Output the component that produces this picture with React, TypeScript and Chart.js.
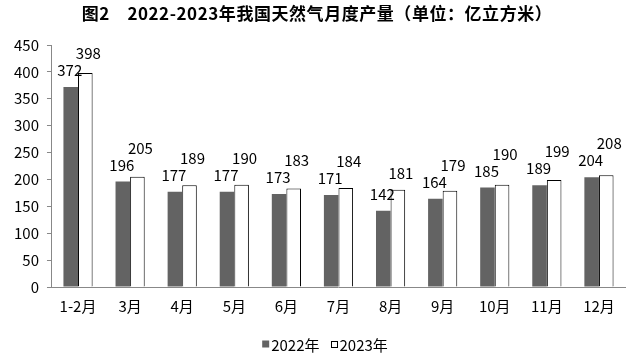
import React, { useEffect, useRef } from "react";
import { Chart, registerables } from "chart.js";

Chart.register(...registerables);

const titleText = "图2　2022-2023年我国天然气月度产量（单位：亿立方米）";
const categories = ["1-2月", "3月", "4月", "5月", "6月", "7月", "8月", "9月", "10月", "11月", "12月"];
const seriesNames = ["2022年", "2023年"];
const values2022 = [372, 196, 177, 177, 173, 171, 142, 164, 185, 189, 204];
const values2023 = [398, 205, 189, 190, 183, 184, 181, 179, 190, 199, 208];
const yTicks = [0, 50, 100, 150, 200, 250, 300, 350, 400, 450];

const FONT = "'Noto Sans CJK SC', 'Noto Sans', sans-serif";
const GRAY = "#636363";

const labelPlugin = {
  id: "barLabels",
  afterDatasetsDraw(chart: any) {
    const ctx = chart.ctx;
    ctx.save();
    ctx.fillStyle = "#000";
    ctx.font = `15px ${FONT}`;
    ctx.textAlign = "center";
    ctx.textBaseline = "alphabetic";
    const m0 = chart.getDatasetMeta(0);
    const m1 = chart.getDatasetMeta(1);
    const d0 = chart.data.datasets[0].data;
    const d1 = chart.data.datasets[1].data;
    const gap = 11;
    const textH = 11;
    m0.data.forEach((b0: any, i: number) => {
      const b1 = m1.data[i];
      const base0 = b0.y - gap;
      let base1 = b1.y - gap;
      const top0 = base0 - textH;
      if (base1 > top0 - 3) base1 = top0 - 6;
      ctx.fillText(String(d0[i]), b0.x - 1, base0);
      ctx.fillText(String(d1[i]), b1.x + 3, base1);
    });
    ctx.restore();
  },
  afterDraw(chart: any) {
    const ctx = chart.ctx;
    ctx.save();
    // title
    ctx.font = `bold 17px ${FONT}`;
    ctx.fillStyle = "#000";
    ctx.textAlign = "left";
    ctx.textBaseline = "middle";
    (ctx as any).letterSpacing = "0.55px";
    const tw = ctx.measureText(titleText).width;
    ctx.fillText(titleText, 317 - tw / 2, 14);
    (ctx as any).letterSpacing = "0px";
    // legend
    ctx.font = `15px ${FONT}`;
    const box = 7;
    const boxGap = 2;
    const itemGap = 11;
    const widths = seriesNames.map((s) => box + boxGap + ctx.measureText(s).width);
    const total = widths.reduce((a, b) => a + b, 0) + itemGap;
    let x = 325 - total / 2;
    const yc = 344;
    seriesNames.forEach((s, i) => {
      if (i === 0) {
        ctx.fillStyle = GRAY;
        ctx.fillRect(x, yc - box / 2, box, box);
      } else {
        ctx.fillStyle = "#fff";
        ctx.fillRect(x, yc - box / 2, box, box);
        ctx.strokeStyle = "#000";
        ctx.lineWidth = 1;
        ctx.strokeRect(Math.round(x) + 0.5, Math.round(yc - box / 2) + 0.5, box - 1, box - 1);
      }
      ctx.fillStyle = "#000";
      ctx.fillText(s, x + box + boxGap, yc + 1);
      x += widths[i] + itemGap;
    });
    ctx.restore();
  },
};

export default function App() {
  const ref = useRef<HTMLCanvasElement | null>(null);
  useEffect(() => {
    if (!ref.current) return;
    const chart = new Chart(ref.current, {
      type: "bar",
      data: {
        labels: categories,
        datasets: [
          {
            label: seriesNames[0],
            data: values2022,
            backgroundColor: GRAY,
            borderWidth: 0,
          },
          {
            label: seriesNames[1],
            data: values2023,
            backgroundColor: "#ffffff",
            borderColor: "#000000",
            borderWidth: 1,
          },
        ],
      },
      options: {
        responsive: false,
        animation: false,
        layout: { padding: { left: 6, right: 10, top: 45, bottom: 37 } },
        datasets: {
          bar: { categoryPercentage: 0.56, barPercentage: 1 },
        },
        plugins: {
          title: { display: false },
          legend: { display: false },
          tooltip: { enabled: false },
        },
        scales: {
          x: {
            grid: { display: false, drawTicks: false },
            border: { display: true, color: "#888888" },
            ticks: { color: "#000", font: { family: FONT, size: 15 }, padding: 10 },
          },
          y: {
            min: 0,
            max: 450,
            afterBuildTicks: (axis: any) => {
              axis.ticks = yTicks.map((v) => ({ value: v }));
            },
            grid: {
              drawOnChartArea: false,
              drawTicks: true,
              tickLength: 5,
              color: "#888888",
            },
            border: { display: true, color: "#888888" },
            ticks: { color: "#000", font: { family: FONT, size: 15 }, padding: 8 },
          },
        },
      },
      plugins: [labelPlugin],
    });
    return () => chart.destroy();
  }, []);
  return (
    <div style={{ position: "fixed", left: 0, top: 0, width: 635, height: 362, background: "#fff" }}>
      <canvas ref={ref} width={635} height={362} />
    </div>
  );
}
